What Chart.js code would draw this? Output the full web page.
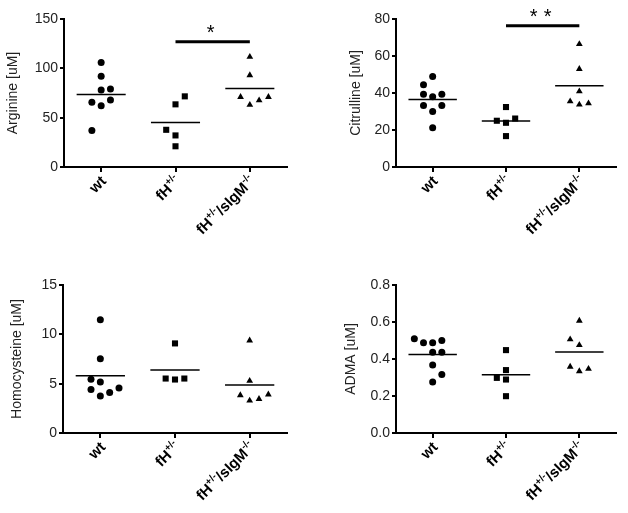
<!DOCTYPE html>
<html>
<head>
<meta charset="utf-8">
<script src="https://cdn.jsdelivr.net/npm/chart.js@4.4.0/dist/chart.umd.min.js"></script>
<style>
  body { margin: 0; background: #fff; }
  #wrap { position: relative; width: 628px; height: 513px; }
  .panel { position: absolute; }
</style>
</head>
<body>
<div id="wrap">
  <div class="panel" style="left:0;top:0"><canvas id="c1" width="314" height="250"></canvas></div>
  <div class="panel" style="left:314px;top:0"><canvas id="c2" width="314" height="250"></canvas></div>
  <div class="panel" style="left:0;top:250px"><canvas id="c3" width="314" height="263"></canvas></div>
  <div class="panel" style="left:314px;top:250px"><canvas id="c4" width="314" height="263"></canvas></div>
</div>
<script>
const FONT = "'Liberation Sans', Arial, sans-serif";

// groups, with superscript parts marked
const groupLabels = [
  [['wt', false]],
  [['fH', false], ['+/-', true]],
  [['fH', false], ['+/-', true], ['/sIgM', false], ['-/-', true]]
];

// Arginine [uM]
const argWt = [106, 92, 78, 79, 65.5, 68, 62, 37];
const argFh = [71.6, 63.5, 37.7, 32, 21];
const argDko = [111.6, 93, 71, 63, 67.5, 71];
const argTicks = [0, 50, 100, 150];
const argSig = 127;

// Citrulline [uM]
const citWt = [48.9, 44.5, 39.3, 38, 39.3, 33.3, 33.3, 30, 21.2];
const citFh = [32.4, 25, 23.9, 26.2, 16.7];
const citDko = [66.4, 53, 40.9, 35.5, 33.7, 34.4];
const citTicks = [0, 20, 40, 60, 80];
const citSig = 76.4;

// Homocysteine [uM]
const hcyWt = [11.48, 7.52, 5.45, 5.18, 4.4, 4.57, 4.1, 3.76];
const hcyFh = [9.08, 5.52, 5.42, 5.52];
const hcyDko = [9.38, 5.28, 3.83, 3.28, 3.45, 3.9];
const hcyTicks = [0, 5, 10, 15];

// ADMA [uM]
const admaWt = [0.509, 0.488, 0.488, 0.5, 0.437, 0.437, 0.367, 0.316, 0.276];
const admaFh = [0.448, 0.34, 0.298, 0.289, 0.199];
const admaDko = [0.607, 0.506, 0.475, 0.358, 0.334, 0.347];
const admaTicks = [0, 0.2, 0.4, 0.6, 0.8];

// horizontal scatter slot of each point (GraphPad-style spreading)
const argSlots = [[0, 0, 0, 1, -1, 1, 0, -1], [1, 0, -1, 0, 0], [0, 0, -1, 0, 1, 2]];
const citSlots = [[0, -1, -1, 0, 1, -1, 1, 0, 0], [0, -1, 0, 1, 0], [0, 0, 0, -1, 0, 1]];
const hcySlots = [[0, 0, -1, 0, -1, 2, 1, 0], [0, -1, 0, 1], [0, 0, -1, 0, 1, 2]];
const admaSlots = [[-2, -1, 0, 1, 0, 1, 0, 1, 0], [0, 0, -1, 0, 0], [0, -1, 0, -1, 0, 1]];

const jitter = 0.125;
const markers = [['circle', 3.5], ['rect', 4.3], ['triangle', 3.9]];

const mean = a => a.reduce((s, v) => s + v, 0) / a.length;

function drawGroupLabel(ctx, x, y, parts) {
  const mainFont = 'bold 15px ' + FONT;
  const supFont = 'bold 10px ' + FONT;
  let total = 0;
  const widths = parts.map(([t, sup]) => {
    ctx.font = sup ? supFont : mainFont;
    const w = ctx.measureText(t).width;
    total += w;
    return w;
  });
  ctx.save();
  ctx.translate(x, y);
  ctx.rotate(-Math.PI / 4);
  ctx.fillStyle = '#000';
  ctx.textBaseline = 'middle';
  ctx.textAlign = 'left';
  let cx = -total;
  parts.forEach(([t, sup], k) => {
    ctx.font = sup ? supFont : mainFont;
    ctx.fillText(t, cx, sup ? -5 : 0);
    cx += widths[k];
  });
  ctx.restore();
}

function makePanel(id, p) {
  const datasets = [];
  p.series.forEach((vals, i) => {
    datasets.push({
      data: vals.map((v, k) => ({ x: i + p.slots[i][k] * jitter, y: v })),
      showLine: false,
      pointStyle: markers[i][0],
      pointRadius: markers[i][1],
      backgroundColor: '#000',
      borderColor: '#000',
      borderWidth: 0
    });
    const m = mean(vals);
    datasets.push({
      data: [{ x: i - 0.33, y: m }, { x: i + 0.33, y: m }],
      showLine: true,
      borderColor: '#000',
      borderWidth: 1.5,
      pointRadius: 0
    });
  });
  if (p.sig != null) {
    datasets.push({
      data: [{ x: 1, y: p.sig }, { x: 2, y: p.sig }],
      showLine: true,
      borderColor: '#000',
      borderWidth: 3,
      pointRadius: 0,
      clip: false
    });
  }

  const decor = {
    id: 'decor',
    afterDraw(chart) {
      const ctx = chart.ctx;
      const xs = chart.scales.x, ys = chart.scales.y;
      const y0 = chart.chartArea.bottom;
      groupLabels.forEach((parts, i) => {
        drawGroupLabel(ctx, xs.getPixelForValue(i) + 3, y0 + 12, parts);
      });
      if (p.sig != null) {
        ctx.save();
        ctx.font = '20px ' + FONT;
        ctx.fillStyle = '#000';
        ctx.textAlign = 'center';
        ctx.textBaseline = 'alphabetic';
        const cx = xs.getPixelForValue(1.5);
        const by = ys.getPixelForValue(p.sig) - 3;
        for (let s = 0; s < p.stars; s++) {
          ctx.fillText('*', cx - 2 + (s - (p.stars - 1) / 2) * 14, by);
        }
        ctx.restore();
      }
    }
  };

  return new Chart(document.getElementById(id), {
    type: 'scatter',
    data: { datasets },
    plugins: [decor],
    options: {
      responsive: false,
      animation: false,
      layout: { padding: { left: p.padL, right: p.padR, top: p.padT, bottom: 0 } },
      plugins: { legend: { display: false }, tooltip: { enabled: false } },
      scales: {
        x: {
          type: 'linear',
          min: -0.5,
          max: 2.5,
          afterBuildTicks: s => { s.ticks = [0, 1, 2].map(v => ({ value: v })); },
          afterFit: s => { s.height = p.xH; },
          ticks: { display: false },
          grid: { drawOnChartArea: false, tickLength: 5, color: '#000', lineWidth: 2 },
          border: { color: '#000', width: 2 }
        },
        y: {
          min: 0,
          max: p.ticks[p.ticks.length - 1],
          afterBuildTicks: s => { s.ticks = p.ticks.map(v => ({ value: v })); },
          afterFit: s => { s.width = p.yW; },
          ticks: {
            color: '#222',
            font: { family: FONT, size: 14 },
            padding: 2,
            callback: p.fmt
          },
          grid: { drawOnChartArea: false, tickLength: 4, color: '#000', lineWidth: 2 },
          border: { color: '#000', width: 2 },
          title: {
            display: true,
            text: p.title,
            color: '#222',
            font: { family: FONT, size: 14 },
            padding: { top: 4, bottom: 4 }
          }
        }
      }
    }
  });
}

makePanel('c1', {
  title: 'Arginine [uM]', series: [argWt, argFh, argDko], slots: argSlots,
  ticks: argTicks, sig: argSig, stars: 1, fmt: v => v,
  padL: 1, yW: 63, padR: 27, padT: 19, xH: 83
});
makePanel('c2', {
  title: 'Citrulline [uM]', series: [citWt, citFh, citDko], slots: citSlots,
  ticks: citTicks, sig: citSig, stars: 2, fmt: v => v,
  padL: 30, yW: 52, padR: 12, padT: 19, xH: 83
});
makePanel('c3', {
  title: 'Homocysteine [uM]', series: [hcyWt, hcyFh, hcyDko], slots: hcySlots,
  ticks: hcyTicks, sig: null, fmt: v => v,
  padL: 5, yW: 58, padR: 27, padT: 35, xH: 80
});
makePanel('c4', {
  title: 'ADMA [uM]', series: [admaWt, admaFh, admaDko], slots: admaSlots,
  ticks: admaTicks, sig: null, fmt: v => v.toFixed(1),
  padL: 25, yW: 57, padR: 12, padT: 35, xH: 80
});
</script>
</body>
</html>
